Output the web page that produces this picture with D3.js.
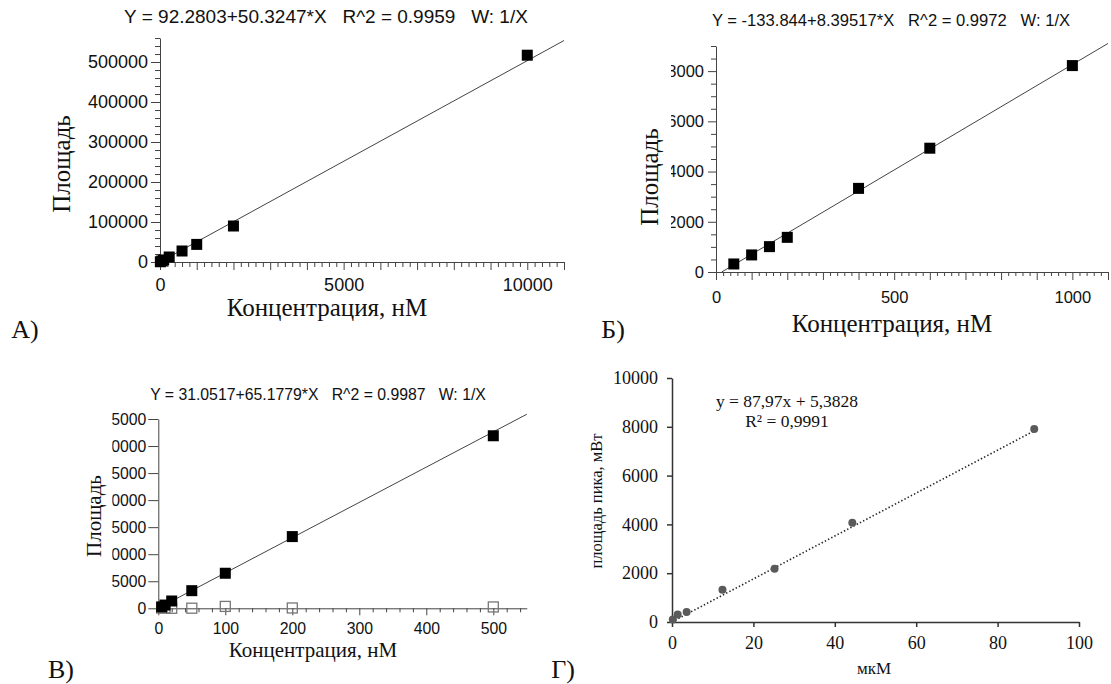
<!DOCTYPE html>
<html>
<head>
<meta charset="utf-8">
<script src="https://cdn.jsdelivr.net/npm/d3@7"></script>
<style>
  body { margin: 0; background: #fff; }
  svg { display: block; }
  svg text { white-space: pre; }
</style>
</head>
<body>
<div id="chart"></div>
<script>
// --- A) ---
const aConc = [10, 50, 100, 250, 600, 1000, 2000, 10000];
const aArea = [600, 2600, 5200, 12500, 27500, 44000, 90000, 517000];
const aFit = [92.2803, 50.3247]; // intercept, slope
const aYTicks = [0, 100000, 200000, 300000, 400000, 500000];
const aXTicks = [0, 5000, 10000];

// --- Б) ---
const bConc = [50, 100, 150, 200, 400, 600, 1000];
const bArea = [320, 680, 1010, 1380, 3330, 4930, 8220];
const bFit = [-133.844, 8.39517];
const bYTicks = [0, 2000, 4000, 6000, 8000];
const bXTicks = [0, 500, 1000];

// --- В) ---
const cConc = [5, 10, 20, 50, 100, 200, 500];
const cArea = [260, 600, 1350, 3260, 6480, 13260, 31900];
const cBlank = [50, 80, 0, 20, 350, 60, 250];
const cFit = [31.0517, 65.1779];
const cYTicks = [0, 5000, 10000, 15000, 20000, 25000, 30000, 35000];
const cXTicks = [0, 100, 200, 300, 400, 500];

// --- Г) ---
const dConc = [0.2, 1.4, 3.6, 12.4, 25.2, 44.3, 89];
const dArea = [100, 310, 410, 1320, 2180, 4070, 7910];
const dFit = [5.3828, 87.97];
const dYTicks = [0, 2000, 4000, 6000, 8000, 10000];
const dXTicks = [0, 20, 40, 60, 80, 100];

const width = 1111;
const height = 684;
const sans = "Liberation Sans, Arial, sans-serif";
const serif = "Liberation Serif, Times New Roman, serif";
const axisColor = "#444";

const svg = d3
  .select("#chart")
  .append("svg")
  .attr("width", width)
  .attr("height", height);

function styleAxis(sel, font, size, color) {
  sel.attr("font-family", null).attr("font-size", null);
  sel.selectAll("path, line").attr("stroke", color);
  sel
    .selectAll("text")
    .style("font-family", font)
    .style("font-size", size + "px")
    .attr("fill", "#111");
}

function minorValues(max, step, majors) {
  return d3.range(0, max + step / 2, step).filter((v) => !majors.includes(v));
}

function label(x, y, txt, font, size, rotate) {
  const t = svg
    .append("text")
    .style("font-family", font)
    .style("font-size", size + "px")
    .attr("fill", "#111")
    .attr("text-anchor", "middle")
    .text(txt);
  if (rotate) t.attr("transform", `translate(${x},${y}) rotate(-90)`);
  else t.attr("x", x).attr("y", y);
  return t;
}

function squares(g, x, y, xs, ys, size, filled) {
  g.selectAll(null)
    .data(xs.map((d, i) => [d, ys[i]]))
    .enter()
    .append("rect")
    .attr("x", (d) => x(d[0]) - size / 2)
    .attr("y", (d) => y(d[1]) - size / 2)
    .attr("width", size)
    .attr("height", size)
    .attr("fill", filled ? "#000" : "none")
    .attr("stroke", filled ? "none" : "#777")
    .attr("stroke-width", 1.3);
}

function fitLine(g, x, y, fit, x0, x1) {
  const f = (v) => fit[0] + fit[1] * v;
  g.append("path")
    .datum([x0, x1])
    .attr("fill", "none")
    .attr("stroke", "#444")
    .attr("stroke-width", 1)
    .attr(
      "d",
      d3
        .line()
        .x((d) => x(d))
        .y((d) => y(f(d)))
    );
}

// ================= A =================
{
  const x = d3.scaleLinear().domain([0, 11000]).range([160, 564]);
  const y = d3.scaleLinear().domain([0, 560000]).range([262, 38]);
  const g = svg.append("g");

  const gy = g.append("g").attr("transform", `translate(${x(0)},0)`);
  gy.append("g")
    .call(d3.axisLeft(y).tickValues(minorValues(560000, 20000, aYTicks)).tickSize(5).tickFormat(""))
    .call((s) => s.select(".domain").remove());
  gy.append("g")
    .call(d3.axisLeft(y).tickValues(aYTicks).tickSize(9).tickPadding(3).tickSizeOuter(0).tickFormat(d3.format("d")));
  styleAxis(gy.selectAll("g"), sans, 18, axisColor);

  const gx = g.append("g").attr("transform", `translate(0,${y(0)})`);
  gx.append("g")
    .call(d3.axisBottom(x).tickValues(minorValues(11000, 200, d3.range(0, 11001, 1000))).tickSize(5).tickFormat(""))
    .call((s) => s.select(".domain").remove());
  gx.append("g")
    .call(
      d3.axisBottom(x)
        .tickValues(d3.range(0, 11001, 1000))
        .tickSize(8)
        .tickPadding(8)
        .tickSizeOuter(0)
        .tickFormat((d) => (aXTicks.includes(d) ? d : ""))
    );
  styleAxis(gx.selectAll("g"), sans, 18, axisColor);

  fitLine(g, x, y, aFit, 0, 11000);
  squares(g, x, y, aConc, aArea, 11, true);

  label(326, 23, "Y = 92.2803+50.3247*X   R^2 = 0.9959   W: 1/X", sans, 19);
  label(327, 316, "Концентрация, нМ", serif, 25);
  label(70, 164, "Площадь", serif, 25, true);
  label(25, 338, "А)", serif, 26);
}

// ================= Б =================
{
  const x = d3.scaleLinear().domain([0, 1100]).range([716, 1108]);
  const y = d3.scaleLinear().domain([0, 9000]).range([272, 46]);
  const g = svg.append("g");

  svg.append("clipPath").attr("id", "clipB")
    .append("rect").attr("x", -45).attr("y", 0).attr("width", 60).attr("height", 400);

  const gy = g.append("g").attr("transform", `translate(${x(0)},0)`).attr("clip-path", "url(#clipB)");
  gy.append("g")
    .call(d3.axisLeft(y).tickValues(minorValues(9000, 500, bYTicks)).tickSize(5).tickFormat(""))
    .call((s) => s.select(".domain").remove());
  gy.append("g")
    .call(d3.axisLeft(y).tickValues(bYTicks).tickSize(8).tickPadding(4).tickSizeOuter(0).tickFormat(d3.format("d")));
  styleAxis(gy.selectAll("g"), sans, 16.5, axisColor);

  const gx = g.append("g").attr("transform", `translate(0,${y(0)})`);
  gx.append("g")
    .call(d3.axisBottom(x).tickValues(minorValues(1100, 20, d3.range(0, 1101, 100))).tickSize(4).tickFormat(""))
    .call((s) => s.select(".domain").remove());
  gx.append("g")
    .call(
      d3.axisBottom(x)
        .tickValues(d3.range(0, 1101, 100))
        .tickSize(8)
        .tickPadding(11)
        .tickSizeOuter(0)
        .tickFormat((d) => (bXTicks.includes(d) ? d : ""))
    );
  styleAxis(gx.selectAll("g"), sans, 16.5, axisColor);

  fitLine(g, x, y, bFit, -bFit[0] / bFit[1], 1100);
  squares(g, x, y, bConc, bArea, 11, true);

  label(891, 26, "Y = -133.844+8.39517*X   R^2 = 0.9972   W: 1/X", sans, 16.6);
  label(892, 332, "Концентрация, нМ", serif, 25);
  label(658, 177, "Площадь", serif, 25, true);
  label(613, 338, "Б)", serif, 26);
}

// ================= В =================
{
  const x = d3.scaleLinear().domain([0, 550]).range([158.3, 526.8]);
  const y = d3.scaleLinear().domain([0, 35000]).range([608.3, 419]);
  const g = svg.append("g");

  svg.append("clipPath").attr("id", "clipC")
    .append("rect").attr("x", -46).attr("y", 0).attr("width", 60).attr("height", 700);

  const gy = g.append("g").attr("transform", `translate(${x(0)},0)`).attr("clip-path", "url(#clipC)");
  gy.append("g")
    .call(d3.axisLeft(y).tickValues(cYTicks).tickSize(10).tickPadding(2).tickSizeOuter(0).tickFormat(d3.format("d")));
  styleAxis(gy.selectAll("g"), sans, 15.8, axisColor);

  const gx = g.append("g").attr("transform", `translate(0,${y(0)})`);
  gx.append("g")
    .call(d3.axisBottom(x).tickValues(minorValues(550, 20, cXTicks)).tickSize(4).tickFormat(""))
    .call((s) => s.select(".domain").remove());
  gx.append("g")
    .call(d3.axisBottom(x).tickValues(cXTicks).tickSize(7).tickPadding(7).tickSizeOuter(0).tickFormat(d3.format("d")));
  styleAxis(gx.selectAll("g"), sans, 15.8, axisColor);

  squares(g, x, y, cConc, cBlank, 10, false);
  fitLine(g, x, y, cFit, 0, 550);
  squares(g, x, y, cConc, cArea, 11, true);

  label(318, 400, "Y = 31.0517+65.1779*X   R^2 = 0.9987   W: 1/X", sans, 15.8);
  label(313, 657, "Концентрация, нМ", serif, 21);
  label(101, 516, "Площадь", serif, 21, true);
  label(61, 678, "В)", serif, 26);
}

// ================= Г =================
{
  const x = d3.scaleLinear().domain([0, 100]).range([672, 1079]);
  const y = d3.scaleLinear().domain([0, 10000]).range([622, 378]);
  const g = svg.append("g");
  const dColor = "#333";

  const gy = g.append("g").attr("transform", `translate(${x(0)},0)`);
  gy.call(d3.axisLeft(y).tickValues(dYTicks).tickSize(5).tickPadding(9).tickSizeOuter(0).tickFormat(d3.format("d")));
  styleAxis(gy, serif, 18, dColor);
  gy.selectAll("path, line").attr("stroke-width", 1.5);

  const gx = g.append("g").attr("transform", `translate(0,${y(0)})`);
  gx.call(d3.axisBottom(x).tickValues(dXTicks).tickSize(5).tickPadding(9).tickSizeOuter(0).tickFormat(d3.format("d")));
  styleAxis(gx, serif, 18, dColor);
  gx.selectAll("path, line").attr("stroke-width", 1.5);

  const f = (v) => dFit[0] + dFit[1] * v;
  g.append("path")
    .datum([0, d3.max(dConc)])
    .attr("fill", "none")
    .attr("stroke", "#222")
    .attr("stroke-width", 1.6)
    .attr("stroke-dasharray", "1.4 2.2")
    .attr("d", d3.line().x((d) => x(d)).y((d) => y(f(d))));

  g.selectAll(null)
    .data(dConc.map((d, i) => [d, dArea[i]]))
    .enter()
    .append("circle")
    .attr("cx", (d) => x(d[0]))
    .attr("cy", (d) => y(d[1]))
    .attr("r", 4)
    .attr("fill", "#5a5a5a");

  label(787, 407, "y = 87,97x + 5,3828", serif, 17.5);
  label(787, 427, "R² = 0,9991", serif, 17.5);
  label(874, 674, "мкМ", serif, 17);
  label(602, 501, "площадь пика, мВт", serif, 16.5, true);
  label(563, 678, "Г)", serif, 26);
}
</script>
</body>
</html>
